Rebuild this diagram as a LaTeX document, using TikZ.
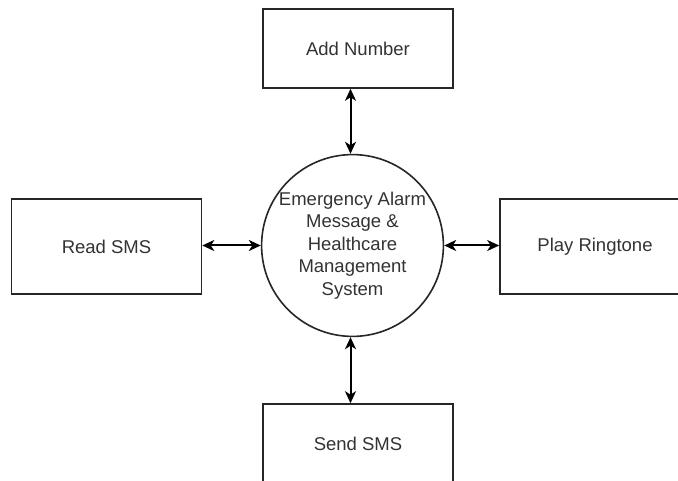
\documentclass[tikz,border=0pt]{standalone}
\usepackage{fontspec}
\setmainfont{Liberation Sans}
\usetikzlibrary{arrows.meta}
\begin{document}
\begin{tikzpicture}[x=1pt,y=-1pt,
  lbl/.style={text=black!80, font=\fontsize{18.5}{22.6}\selectfont, align=center},
  proc/.style={draw=black!85, line width=1.6pt, rectangle, minimum width=190pt, minimum height=79pt, lbl},
  tallproc/.style={proc, minimum height=95pt},
  hub/.style={draw=black!85, line width=1.6pt, circle, minimum size=177pt, inner sep=0pt, lbl},
  flow/.style={draw=black, line width=2pt, {Stealth[length=12pt,width=11pt,inset=3.5pt]}-{Stealth[length=12pt,width=11pt,inset=3.5pt]}}]
  \useasboundingbox (0,0) rectangle (678,481);
  \clip (0,0) rectangle (678,481);
  \fill[white] (0,0) rectangle (678,481);

  % central process and the four external functions
  \node[hub] (sys) at (352.5,245.5) {Emergency Alarm\\Message \&\\Healthcare\\Management\\System};
  \node[proc] (add)  at (358,48.5)  {Add Number};
  \node[tallproc] (read) at (106.5,246.5) {Read SMS};
  \node[tallproc] (ring) at (595,246.5) {Play Ringtone};
  \node[proc] (send) at (358,443.5) {Send SMS};

  % two-way data flows
  \draw[flow] (sys.north -| 350.5,0) -- (350.5,0 |- add.south);
  \draw[flow] (sys.south -| 350.5,0) -- (350.5,0 |- send.north);
  \draw[flow] (sys.west) -- (sys.west -| read.east);
  \draw[flow] (sys.east) -- (sys.east -| ring.west);
\end{tikzpicture}
\end{document}
